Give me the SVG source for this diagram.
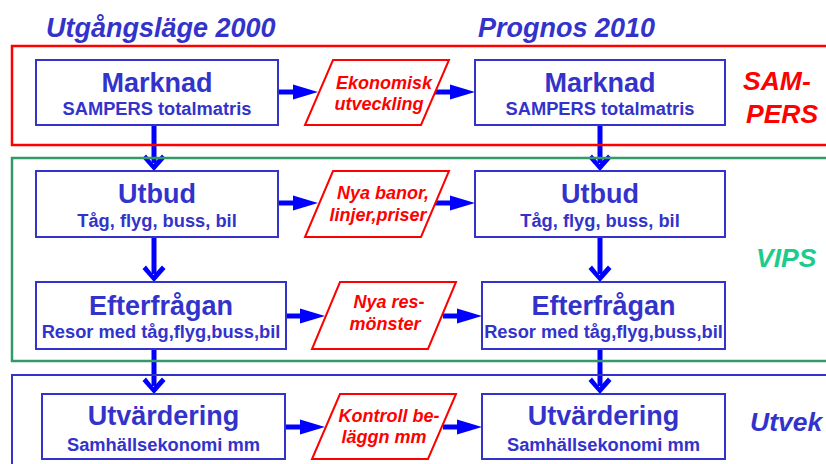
<svg xmlns="http://www.w3.org/2000/svg" width="826" height="464" viewBox="0 0 826 464">
<style>
.title{font-family:"Liberation Sans",Arial,sans-serif;font-weight:bold;font-style:italic;font-size:27px;fill:#3333cc}
.box{fill:#ffffff;stroke:#3333cc;stroke-width:2}
.para{fill:#ffffff;stroke:#ff0000;stroke-width:2}
.h1{font-family:"Liberation Sans",Arial,sans-serif;font-weight:bold;font-size:27px;fill:#3333cc;text-anchor:middle}
.h2{font-family:"Liberation Sans",Arial,sans-serif;font-weight:bold;font-size:18.3px;fill:#3333cc;text-anchor:middle}
.pt{font-family:"Liberation Sans",Arial,sans-serif;font-weight:bold;font-style:italic;font-size:18px;fill:#ff0000;text-anchor:middle}
.side{font-family:"Liberation Sans",Arial,sans-serif;font-weight:bold;font-style:italic;font-size:26.5px}
.conn{stroke:#0000ff;stroke-width:5;fill:none}
.hc{marker-end:url(#tri)}
.vc{marker-end:url(#chev)}
</style>
<defs>
<marker id="tri" markerUnits="userSpaceOnUse" markerWidth="30" markerHeight="20" refX="5" refY="0" viewBox="0 -10 30 20" orient="auto" overflow="visible">
<path d="M0,-7.5 L25,0 L0,7.5 Z" fill="#0000ff"/>
</marker>
<marker id="chev" markerUnits="userSpaceOnUse" markerWidth="20" markerHeight="26" refX="10" refY="0" viewBox="0 -13 20 26" orient="auto" overflow="visible">
<path d="M18,0 L5,-11.5 L1.5,-8 L11,0.5 L1.5,8 L5,11.5 Z" fill="#0000ff"/>
</marker>
</defs>
<rect width="826" height="464" fill="#ffffff"/>
<text class="title" x="46" y="37">Utgångsläge 2000</text>
<text class="title" x="478" y="37">Prognos 2010</text>
<g id="connectors">
<line class="conn hc" x1="278" y1="92" x2="298" y2="92"/>
<line class="conn hc" x1="435" y1="92" x2="455" y2="92"/>
<line class="conn hc" x1="278" y1="203" x2="298" y2="203"/>
<line class="conn hc" x1="435" y1="203" x2="455" y2="203"/>
<line class="conn hc" x1="286" y1="316" x2="305" y2="316"/>
<line class="conn hc" x1="443" y1="316" x2="462" y2="316"/>
<line class="conn hc" x1="285" y1="427" x2="305" y2="427"/>
<line class="conn hc" x1="443" y1="427" x2="462" y2="427"/>
<line class="conn vc" x1="154" y1="125" x2="154" y2="163"/>
<line class="conn vc" x1="154" y1="237" x2="154" y2="274"/>
<line class="conn vc" x1="154" y1="349" x2="154" y2="386"/>
<line class="conn vc" x1="600" y1="125" x2="600" y2="163"/>
<line class="conn vc" x1="600" y1="237" x2="600" y2="274"/>
<line class="conn vc" x1="600" y1="349" x2="600" y2="386"/>
</g>
<g id="band-sampers">
<rect x="12" y="46" width="830" height="99" fill="none" stroke="#ff0000" stroke-width="2.5"/>
<text class="side" x="743" y="90" fill="#ff0000">SAM-</text>
<text class="side" x="746" y="123" fill="#ff0000">PERS</text>
</g>
<g id="band-vips">
<rect x="12" y="158" width="830" height="203" fill="none" stroke="#339966" stroke-width="2.5"/>
<text class="side" x="756" y="267" fill="#1ccc8c">VIPS</text>
</g>
<g id="band-utvek">
<rect x="12" y="375" width="830" height="100" fill="none" stroke="#3333cc" stroke-width="2"/>
<text class="side" x="750" y="431" fill="#3333cc">Utvek</text>
</g>
<g id="marknad-2000">
<rect class="box" x="36" y="60" width="242" height="65"/>
<text class="h1" x="157" y="92">Marknad</text>
<text class="h2" x="157" y="115">SAMPERS totalmatris</text>
</g>
<g id="ekonomisk">
<polygon class="para" points="333,60 449,60 421,125 305,125"/>
<text class="pt" x="384" y="89">Ekonomisk</text>
<text class="pt" x="379" y="110">utveckling</text>
</g>
<g id="marknad-2010">
<rect class="box" x="475" y="60" width="250" height="65"/>
<text class="h1" x="600" y="92">Marknad</text>
<text class="h2" x="600" y="115">SAMPERS totalmatris</text>
</g>
<g id="utbud-2000">
<rect class="box" x="36" y="171" width="242" height="66"/>
<text class="h1" x="157" y="203">Utbud</text>
<text class="h2" x="157" y="227">Tåg, flyg, buss, bil</text>
</g>
<g id="nya-banor">
<polygon class="para" points="333,171 449,171 421,237 305,237"/>
<text class="pt" x="383" y="199">Nya banor,</text>
<text class="pt" x="378" y="221">linjer,priser</text>
</g>
<g id="utbud-2010">
<rect class="box" x="475" y="171" width="250" height="66"/>
<text class="h1" x="600" y="203">Utbud</text>
<text class="h2" x="600" y="227">Tåg, flyg, buss, bil</text>
</g>
<g id="efterfragan-2000">
<rect class="box" x="36" y="282" width="250" height="67"/>
<text class="h1" x="161" y="315">Efterfrågan</text>
<text class="h2" x="161" y="338">Resor med tåg,flyg,buss,bil</text>
</g>
<g id="nya-resmonster">
<polygon class="para" points="340,282 456,282 428,349 312,349"/>
<text class="pt" x="389" y="308">Nya res-</text>
<text class="pt" x="385" y="330">mönster</text>
</g>
<g id="efterfragan-2010">
<rect class="box" x="482" y="282" width="243" height="67"/>
<text class="h1" x="603.5" y="315">Efterfrågan</text>
<text class="h2" x="603.5" y="338">Resor med tåg,flyg,buss,bil</text>
</g>
<g id="utvardering-2000">
<rect class="box" x="42" y="394" width="243" height="65"/>
<text class="h1" x="163.5" y="425">Utvärdering</text>
<text class="h2" x="163.5" y="451">Samhällsekonomi mm</text>
</g>
<g id="kontroll">
<polygon class="para" points="340,394 456,394 428,459 312,459"/>
<text class="pt" x="389" y="422">Kontroll be-</text>
<text class="pt" x="384" y="443">läggn mm</text>
</g>
<g id="utvardering-2010">
<rect class="box" x="482" y="394" width="243" height="65"/>
<text class="h1" x="603.5" y="425">Utvärdering</text>
<text class="h2" x="603.5" y="451">Samhällsekonomi mm</text>
</g>
</svg>
